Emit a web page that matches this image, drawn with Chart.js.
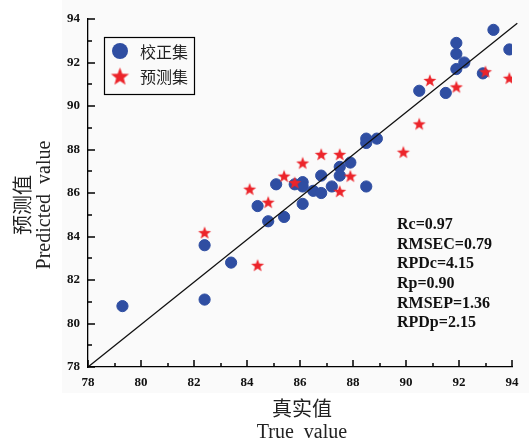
<!DOCTYPE html>
<html>
<head>
<meta charset="utf-8">
<script src="https://cdn.jsdelivr.net/npm/chart.js@4/dist/chart.umd.min.js"></script>
<style>
  html, body { margin: 0; padding: 0; background: #fff; }
  #wrap { width: 529px; height: 441px; }
</style>
</head>
<body>
<div id="wrap"><canvas id="c" width="529" height="441"></canvas></div>
<script>
// calibration set (校正集): true value / predicted value
const calX = [79.3, 82.4, 82.4, 83.4, 84.4, 84.8, 85.4, 85.1, 85.8, 86.1, 86.1, 86.1, 86.5, 86.8, 86.8, 87.2,
              87.5, 87.5, 87.9, 88.5, 88.5, 88.9, 88.5, 90.5, 91.5, 91.9, 91.9, 91.9, 92.2, 92.9, 93.3, 93.9];
const calY = [80.8, 83.6, 81.1, 82.8, 85.4, 84.7, 84.9, 86.4, 86.4, 86.5, 86.3, 85.5, 86.1, 86.8, 86.0, 86.3,
              87.2, 86.8, 87.4, 88.5, 88.3, 88.5, 86.3, 90.7, 90.6, 91.7, 92.4, 92.9, 92.0, 91.5, 93.5, 92.6];

// prediction set (预测集)
const preX = [82.4, 84.1, 84.4, 84.8, 85.4, 85.8, 86.1, 86.8, 87.5, 87.5, 87.9, 89.9, 90.5, 90.9, 91.9, 93.0, 93.9];
const preY = [84.2, 86.2, 82.7, 85.6, 86.8, 86.5, 87.4, 87.8, 87.8, 86.1, 86.8, 87.9, 89.2, 91.2, 90.9, 91.6, 91.3];

// fitted line end points
const fitX = [78, 94.2];
const fitY = [78, 93.8];

// tick values along both axes
const tickVals = [78, 79, 80, 81, 82, 83, 84, 85, 86, 87, 88, 89, 90, 91, 92, 93, 94];

const stats = ['Rc=0.97', 'RMSEC=0.79', 'RPDc=4.15', 'Rp=0.90', 'RMSEP=1.36', 'RPDp=2.15'];

const BLUE = '#2f4ea2';
const RED = '#ec242a';

function starImg(r, color) {
  const c = document.createElement('canvas');
  const s = Math.ceil(r * 2 + 2);
  c.width = c.height = s;
  const g = c.getContext('2d');
  g.fillStyle = color;
  g.beginPath();
  for (let i = 0; i < 10; i++) {
    const rad = i % 2 ? r * 0.42 : r;
    const a = -Math.PI / 2 + i * Math.PI / 5;
    g.lineTo(s / 2 + rad * Math.cos(a), s / 2 + 1 + rad * Math.sin(a));
  }
  g.closePath();
  g.fill();
  return c;
}

const star = starImg(6.8, RED);
const bigStar = starImg(9.5, RED);

const zip = (xs, ys) => xs.map((x, i) => ({ x: x, y: ys[i] }));

// inward ticks, legend, stats text and axis titles
const decor = {
  id: 'decor',
  beforeDraw(chart) {
    const ctx = chart.ctx;
    ctx.save();
    ctx.fillStyle = '#fafafa';
    ctx.fillRect(62, 0, chart.width - 62, 393);
    ctx.restore();
  },
  afterDraw(chart) {
    const ctx = chart.ctx;
    const xs = chart.scales.x, ys = chart.scales.y;
    const a = chart.chartArea;
    ctx.save();
    ctx.fillStyle = '#000';
    tickVals.forEach(v => {
      const len = v % 2 === 0 ? 7 : 4;
      const px = Math.round(xs.getPixelForValue(v));
      const py = Math.round(ys.getPixelForValue(v));
      ctx.fillRect(px - 0.75, a.bottom - len, 1.5, len);
      ctx.fillRect(a.left, py - 0.75, len, 1.5);
    });

    // legend
    const lx = a.left + 16, ly = a.top + 18;
    ctx.strokeStyle = '#000';
    ctx.lineWidth = 1.2;
    ctx.strokeRect(lx + 0.5, ly + 0.5, 90, 57);
    ctx.fillStyle = BLUE;
    ctx.beginPath();
    ctx.arc(lx + 16, ly + 14, 8, 0, Math.PI * 2);
    ctx.fill();
    ctx.drawImage(bigStar, lx + 16 - bigStar.width / 2, ly + 39 - bigStar.height / 2);
    ctx.fillStyle = '#222';
    ctx.font = '16px "Noto Sans CJK SC"';
    ctx.textBaseline = 'middle';
    ctx.textAlign = 'left';
    ctx.fillText('校正集', lx + 36, ly + 15);
    ctx.fillText('预测集', lx + 36, ly + 40);

    // statistics
    ctx.fillStyle = '#111';
    ctx.font = 'bold 16px "Liberation Serif"';
    const sx = xs.getPixelForValue(89.66);
    const sy = ys.getPixelForValue(84.53);
    stats.forEach((s, i) => ctx.fillText(s, sx, sy + i * 19.6));

    // axis titles
    ctx.fillStyle = '#222';
    ctx.textAlign = 'center';
    const cx = (a.left + a.right) / 2;
    ctx.font = '20px "Noto Sans CJK SC"';
    ctx.fillText('真实值', cx + 2, a.bottom + 41);
    ctx.font = '20px "Liberation Serif"';
    ctx.fillText('True  value', cx + 2, a.bottom + 66);

    ctx.translate(0, 205);
    ctx.rotate(-Math.PI / 2);
    ctx.font = '20px "Noto Sans CJK SC"';
    ctx.fillText('预测值', 0, 22);
    ctx.font = '20px "Liberation Serif"';
    ctx.fillText('Predicted  value', 0, 45);
    ctx.restore();
  }
};

Chart.defaults.font.family = '"Liberation Serif", serif';
Chart.defaults.color = '#111';

new Chart(document.getElementById('c'), {
  type: 'scatter',
  data: {
    datasets: [
      {
        label: 'fit',
        data: zip(fitX, fitY),
        showLine: true,
        borderColor: '#111',
        borderWidth: 1.3,
        pointRadius: 0,
        clip: false,
        order: 0
      },
      {
        label: '预测集',
        data: zip(preX, preY),
        pointStyle: star,
        order: 1
      },
      {
        label: '校正集',
        data: zip(calX, calY),
        backgroundColor: BLUE,
        borderColor: BLUE,
        pointRadius: 5.6,
        pointHoverRadius: 5.6,
        order: 2
      }
    ]
  },
  options: {
    responsive: false,
    animation: false,
    layout: { padding: { top: 19, right: 17, left: 0, bottom: 0 } },
    plugins: {
      legend: { display: false },
      tooltip: { enabled: false }
    },
    scales: {
      x: {
        min: 78,
        max: 94,
        grid: { display: false, drawTicks: false },
        border: { display: true, color: '#000', width: 1.3 },
        ticks: {
          stepSize: 1,
          padding: 8,
          font: { size: 13, weight: 'bold' },
          callback: v => (v % 2 === 0 ? v : '')
        },
        afterFit: s => { s.height = 74; }
      },
      y: {
        min: 78,
        max: 94,
        grid: { display: false, drawTicks: false },
        border: { display: true, color: '#000', width: 1.3 },
        ticks: {
          stepSize: 1,
          padding: 8,
          font: { size: 13, weight: 'bold' },
          callback: v => (v % 2 === 0 ? v : '')
        },
        afterFit: s => { s.width = 88; }
      }
    }
  },
  plugins: [decor]
});
</script>
</body>
</html>
